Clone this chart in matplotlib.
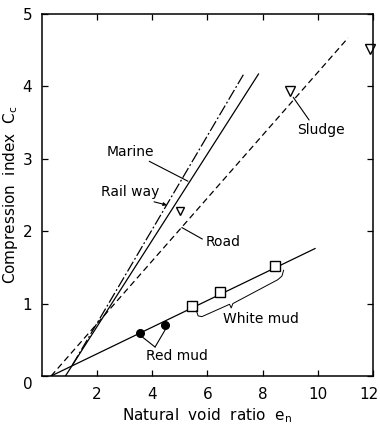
import matplotlib
matplotlib.use("Agg")
import matplotlib.pyplot as plt
from matplotlib.transforms import ScaledTranslation

# --- data ---
# straight correlation lines (end points, e_n -> Cc)
marine_e = [1.1, 7.3]
marine_cc = [0.15, 4.16]
railway_e = [0.85, 7.85]
railway_cc = [0.0, 4.17]
road_e = [0.33, 11.1]
road_cc = [0.0, 4.67]
mud_e = [0.33, 9.9]
mud_cc = [0.0, 1.76]

# measured points
red_mud_e = [3.55, 4.45]
red_mud_cc = [0.60, 0.71]
white_mud_e = [5.45, 6.45, 8.45]
white_mud_cc = [0.97, 1.16, 1.52]
sludge_e = [8.99, 11.88]
sludge_cc = [3.93, 4.52]
railway_pt_e = [5.0]
railway_pt_cc = [2.28]

x_ticks = [2, 4, 6, 8, 10, 12]
y_ticks = [0, 1, 2, 3, 4, 5]

plt.rcParams['font.family'] = ['DejaVu Sans']
fig = plt.figure(figsize=(3.8, 4.28), dpi=100)
ax = fig.add_axes([0.1105, 0.1215, 0.871, 0.846])

lw = 0.9
ax.plot(marine_e, marine_cc, color='black', lw=lw, linestyle=(0, (9, 2, 1.5, 2)))
ax.plot(railway_e, railway_cc, color='black', lw=lw)
ax.plot(road_e, road_cc, color='black', lw=lw, linestyle=(0, (5, 3)))
ax.plot(mud_e, mud_cc, color='black', lw=lw)

ax.plot(red_mud_e, red_mud_cc, 'o', color='black', ms=5.5)
ax.plot(white_mud_e, white_mud_cc, 's', mfc='white', mec='black', ms=6.5, mew=1.0)
ax.plot(sludge_e, sludge_cc, 'v', mfc='white', mec='black', ms=6.5, mew=1.0, clip_on=False)
ax.plot(railway_pt_e, railway_pt_cc, 'v', mfc='white', mec='black', ms=5.5, mew=1.0)

fs = 10
lead = dict(arrowstyle='-', color='black', lw=0.8, shrinkA=0, shrinkB=0)
ax.annotate('Marine', xy=(5.29, 2.69), xytext=(3.2, 3.1), fontsize=fs,
            ha='center', va='center', arrowprops=lead)
ax.annotate('Rail way', xy=(4.53, 2.36), xytext=(3.2, 2.54), fontsize=fs,
            ha='center', va='center',
            arrowprops=dict(arrowstyle='-|>', color='black', lw=0.8,
                            mutation_scale=5, shrinkA=0, shrinkB=0,
                            relpos=(0.72, 0.0)))
ax.annotate('Road', xy=(5.07, 2.05), xytext=(6.55, 1.85), fontsize=fs,
            ha='center', va='center',
            arrowprops=dict(arrowstyle='-', color='black', lw=0.8,
                            shrinkA=0, shrinkB=0, relpos=(0.0, 0.6)))
ax.annotate('Sludge', xy=(9.05, 3.88), xytext=(10.1, 3.4), fontsize=fs,
            ha='center', va='center',
            arrowprops=dict(arrowstyle='-', color='black', lw=0.8,
                            shrinkA=0, shrinkB=2, relpos=(0.3, 1.0)))

# red mud label with two leaders
ax.text(4.9, 0.27, 'Red mud', fontsize=fs, ha='center', va='center')
for e, c in zip(red_mud_e, red_mud_cc):
    ax.annotate('', xy=(e + 0.05, c - 0.05), xytext=(4.1, 0.40),
                arrowprops=dict(arrowstyle='-', color='black', lw=0.8,
                                shrinkA=0, shrinkB=0))

# white mud label with brace
ax.text(7.95, 0.79, 'White mud', fontsize=fs, ha='center', va='center')
brace_e = [5.60, 5.66, 5.80, 6.80, 6.86, 6.92, 8.55, 8.70, 8.76]
brace_cc = [0.90, 0.83, 0.82, 0.99, 0.94, 1.00, 1.33, 1.38, 1.46]
ax.plot(brace_e, brace_cc, color='black', lw=0.7)

ax.set_xlim(0, 12)
ax.set_ylim(0, 5)
ax.set_xticks(x_ticks)
ax.set_yticks(y_ticks)
ax.tick_params(direction='in', length=4, width=0.9, top=True, right=True,
               labelsize=fs + 1)
ax.tick_params(axis='x', pad=8)
ax.tick_params(axis='y', pad=7)
for s in ax.spines.values():
    s.set_linewidth(1.1)

# the "0" on the y axis sits a bit below the corner
lab0 = ax.get_yticklabels()[0]
lab0.set_transform(lab0.get_transform() + ScaledTranslation(0, -5 / 72, fig.dpi_scale_trans))
# keep the "12" inside the picture
lab12 = ax.get_xticklabels()[-1]
lab12.set_transform(lab12.get_transform() + ScaledTranslation(-3 / 72, 0, fig.dpi_scale_trans))

ax.set_xlabel('Natural  void  ratio  $\\mathregular{e_n}$', fontsize=fs + 1)
ax.set_ylabel('Compression  index  $\\mathregular{C_c}$', fontsize=fs + 1)
ax.xaxis.set_label_coords(0.5, -0.085)
ax.yaxis.set_label_coords(-0.065, 0.5)

fig.savefig('out.png', dpi=100)
